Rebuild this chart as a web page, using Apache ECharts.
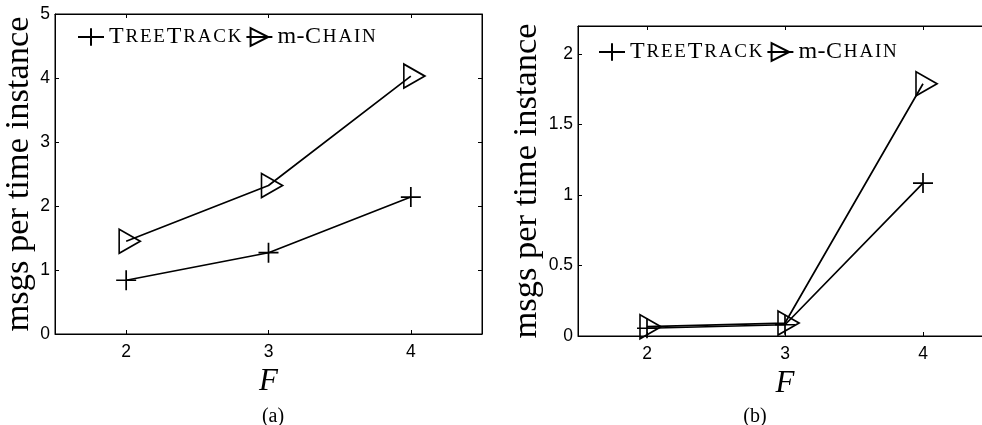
<!DOCTYPE html>
<html>
<head>
<meta charset="utf-8">
<script src="https://cdn.jsdelivr.net/npm/echarts@6/dist/echarts.min.js"></script>
<style>
  html, body { margin: 0; padding: 0; background: #fff; width: 982px; height: 425px; overflow: hidden; }
  /* the right panel runs past the page edge, so the canvas is wider than the page */
  #chart { width: 1000px; height: 425px; }
</style>
</head>
<body>
<div id="chart"></div>
<script>
// Fan-out values on the x axis
const fValues = [2, 3, 4];

// Panel (a): messages per time instance
const treeTrackA = [0.84, 1.27, 2.14];
const mChainA = [1.45, 2.32, 4.03];

// Panel (b): messages per time instance
const treeTrackB = [0.055, 0.080, 1.085];
const mChainB = [0.066, 0.092, 1.79];

// Tick labels
const xTicks = [2, 3, 4];
const yTicksA = [0, 1, 2, 3, 4, 5];
const yTicksB = [0, 0.5, 1, 1.5, 2];

const seriesNames = ['TreeTrack', 'm-Chain'];
const panelLabels = ['(a)', '(b)'];

const SERIF = '"Liberation Serif", "DejaVu Serif", serif';
const SANS = '"Liberation Sans", Arial, sans-serif';

const plusPath = 'path://M0,10L20,10M10,0L10,20';
const triPath = 'path://M0,0L21,12L0,24Z';

function pairs(xs, ys) { return xs.map((x, i) => [x, ys[i]]); }

// Small-caps rendering of a name: capitals stay large, lower-case letters
// become smaller capitals, each letter spaced slightly apart.
function smallCaps(name) {
  let out = '';
  for (const ch of name) {
    if (ch === 'm' || ch === '-') out += '{n|' + ch + '}';
    else if (ch === ch.toUpperCase()) out += '{c|' + ch + '}';
    else out += '{s|' + ch.toUpperCase() + '}';
  }
  return out;
}

const grids = [
  { left: 55, top: 14, width: 427, height: 320 },
  { left: 578, top: 26, width: 414, height: 310 }
];

function xAxes(gi) {
  const base = {
    gridIndex: gi, type: 'value', min: 1.5, max: 4.5,
    axisLine: { show: true, onZero: false, lineStyle: { color: '#000', width: 1 } },
    axisTick: { show: true, inside: true, length: 4, customValues: xTicks, lineStyle: { color: '#000' } },
    splitLine: { show: false }
  };
  return [
    Object.assign({}, base, {
      position: 'bottom',
      axisLabel: { show: true, customValues: xTicks, color: '#000', fontFamily: SANS, fontSize: 17.5, margin: 9 },
      name: 'F', nameLocation: 'middle', nameGap: 23,
      nameTextStyle: { fontFamily: SERIF, fontStyle: 'italic', fontSize: 31, color: '#000' }
    }),
    Object.assign({}, base, { position: 'top', axisLabel: { show: false } })
  ];
}

function yAxes(gi, max, ticks, gap) {
  const base = {
    gridIndex: gi, type: 'value', min: 0, max: max,
    axisLine: { show: true, onZero: false, lineStyle: { color: '#000', width: 1 } },
    axisTick: { show: true, inside: true, length: 4, customValues: ticks, lineStyle: { color: '#000' } },
    splitLine: { show: false }
  };
  return [
    Object.assign({}, base, {
      position: 'left',
      axisLabel: { show: true, customValues: ticks, color: '#000', fontFamily: SANS, fontSize: 17.5, margin: 5 },
      name: 'msgs per time instance', nameLocation: 'middle', nameGap: gap, nameRotate: 90,
      nameTextStyle: { fontFamily: SERIF, fontSize: 34.5, color: '#000' }
    }),
    Object.assign({}, base, { position: 'right', axisLabel: { show: false } })
  ];
}

function lineSeries(name, gi, ys, symbol, size, offset) {
  return {
    name: name, type: 'line',
    xAxisIndex: gi * 2, yAxisIndex: gi * 2,
    data: pairs(fValues, ys),
    symbol: symbol, symbolSize: size, symbolOffset: offset,
    showSymbol: true,
    lineStyle: { color: '#000', width: 1.7 },
    itemStyle: { color: 'rgba(255,255,255,0)', borderColor: '#000', borderWidth: 1.7 },
    emphasis: { disabled: true },
    animation: false
  };
}

const legendRich = {
  c: { fontFamily: SERIF, fontSize: 24, color: '#000', padding: [0, 1.8, 0, 0] },
  s: { fontFamily: SERIF, fontSize: 19, color: '#000', padding: [0, 1.8, 0, 0] },
  n: { fontFamily: SERIF, fontSize: 24, color: '#000', padding: [0, 0.5, 0, 0] }
};

function legend(left, top) {
  return {
    data: seriesNames.map(n => ({ name: n })),
    left: left, top: top, orient: 'horizontal',
    itemWidth: 26, itemHeight: 22, itemGap: 4,
    padding: 0,
    selectedMode: false,
    formatter: n => smallCaps(n),
    textStyle: { rich: legendRich, color: '#000' }
  };
}

const option = {
  backgroundColor: '#fff',
  animation: false,
  grid: grids.map(g => Object.assign({ show: true, borderColor: '#000', borderWidth: 1, containLabel: false }, g)),
  xAxis: [].concat(xAxes(0), xAxes(1)),
  yAxis: [].concat(yAxes(0, 5, yTicksA, 12), yAxes(1, 2.2, yTicksB, 31)),
  legend: [legend(77, 25), legend(598, 40)],
  title: [
    { text: panelLabels[0], left: 268, top: 402, textAlign: 'center',
      textStyle: { fontFamily: SERIF, fontSize: 20, fontWeight: 'normal', color: '#000' } },
    { text: panelLabels[1], left: 750, top: 402, textAlign: 'center',
      textStyle: { fontFamily: SERIF, fontSize: 20, fontWeight: 'normal', color: '#000' } }
  ],
  series: [
    lineSeries(seriesNames[0], 0, treeTrackA, plusPath, [20, 20], [0, 0]),
    lineSeries(seriesNames[1], 0, mChainA, triPath, [21, 24], [3.5, 0]),
    lineSeries(seriesNames[0], 1, treeTrackB, plusPath, [20, 20], [0, 0]),
    lineSeries(seriesNames[1], 1, mChainB, triPath, [21, 24], [3.5, 0])
  ]
};

const chart = echarts.init(document.getElementById('chart'), null, { renderer: 'canvas' });
chart.setOption(option);
</script>
</body>
</html>
